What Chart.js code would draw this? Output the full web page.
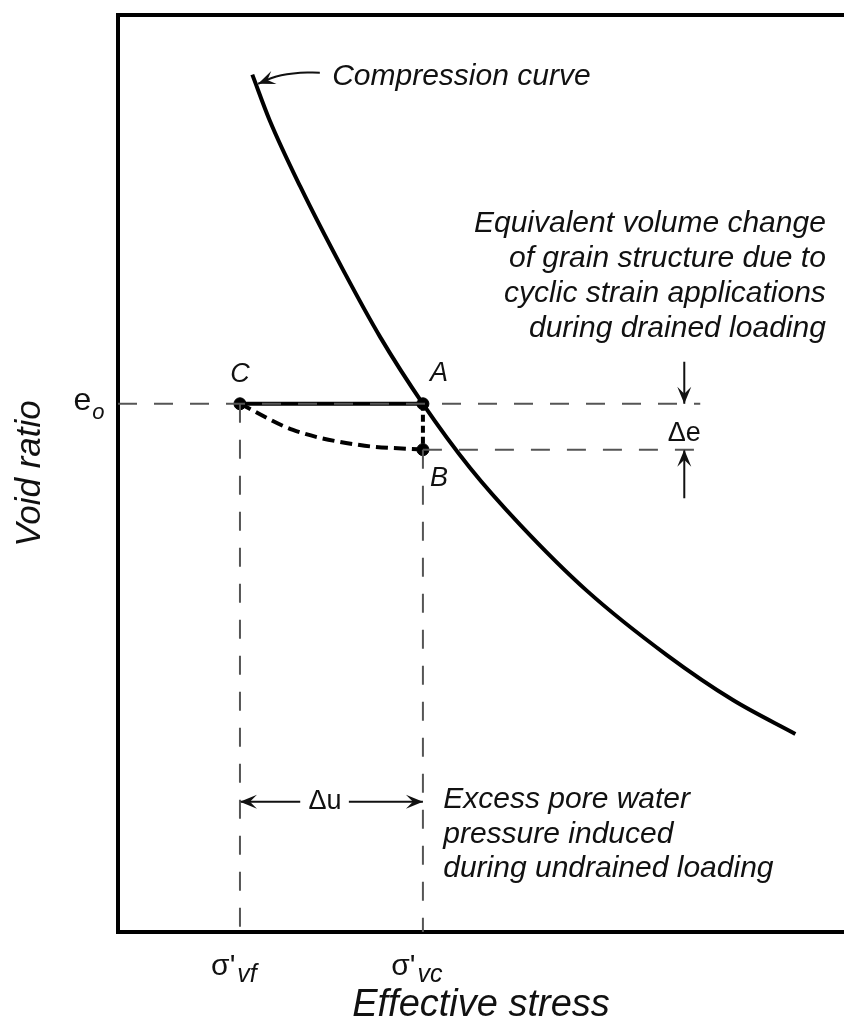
<!DOCTYPE html>
<html>
<head>
<meta charset="utf-8">
<script src="https://cdn.jsdelivr.net/npm/chart.js@4"></script>
<style>
  body { margin: 0; background: #fff; }
  #wrap { width: 844px; height: 1021px; }
</style>
</head>
<body>
<div id="wrap"><canvas id="consolidationChart"></canvas></div>

<script>
  // compression curve (effective stress vs void ratio, arbitrary units)
  const curveStress = [18.5, 20.9, 25.1, 31.0, 36.1, 42.0, 48.5, 55.4, 64.6, 75.6, 84.7, 93.3];
  const curveVoid = [93.5, 88.5, 81.3, 72.2, 64.9, 57.6, 50.6, 44.4, 37.2, 30.2, 25.3, 21.6];

  // undrained path C -> B
  const undrainedStress = [16.8, 24.1, 33.3, 42.0];
  const undrainedVoid = [57.6, 54.75, 53.1, 52.6];

  // key states
  const e0 = 57.6;
  const eB = 52.6;
  const sigmaVf = 16.8;
  const sigmaVc = 42.0;
  const guideEnd = 80.2;

  const pointNames = ["C", "A", "B"];
  const pointStress = [sigmaVf, sigmaVc, sigmaVc];
  const pointVoid = [e0, e0, eB];

  const tickLabels = [["\u03c3'", "vf"], ["\u03c3'", "vc"]];

  // arrows
  const deltaEx = 78.0;
  const deltaEdown = [62.2, e0];
  const deltaEup = [47.3, eB];
  const deltaUy = 14.2;
  const deltaUleft = [sigmaVf, 25.1];
  const deltaUright = [31.8, sigmaVc];
  const leaderStress = [27.8, 25.1, 21.8, 19.3];
  const leaderVoid = [93.7, 93.7, 93.3, 92.5];

  const zip = (xs, ys) => xs.map((v, i) => ({ x: v, y: ys[i] }));
  const FONT = '"Liberation Sans", Arial, sans-serif';

  function arrowHead(ctx, tx, ty, dx, dy) {
    const len = Math.hypot(dx, dy);
    dx /= len; dy /= len;
    const nx = -dy, ny = dx;
    const L = 17, W = 7, N = 10;
    ctx.beginPath();
    ctx.moveTo(tx, ty);
    ctx.lineTo(tx - L * dx + W * nx, ty - L * dy + W * ny);
    ctx.lineTo(tx - N * dx, ty - N * dy);
    ctx.lineTo(tx - L * dx - W * nx, ty - L * dy - W * ny);
    ctx.closePath();
    ctx.fill();
  }

  const sketchPlugin = {
    id: "sketch",
    afterDatasetsDraw(chart) {
      const { ctx, scales: { x, y } } = chart;
      const px = (v) => x.getPixelForValue(v);
      const py = (v) => y.getPixelForValue(v);
      ctx.save();
      ctx.fillStyle = "#111";

      // arrow heads
      arrowHead(ctx, px(deltaEx), py(deltaEdown[1]), 0, 1);
      arrowHead(ctx, px(deltaEx), py(deltaEup[1]), 0, -1);
      arrowHead(ctx, px(deltaUleft[0]), py(deltaUy), -1, 0);
      arrowHead(ctx, px(deltaUright[1]), py(deltaUy), 1, 0);
      const n = leaderStress.length;
      arrowHead(ctx, px(leaderStress[n - 1]), py(leaderVoid[n - 1]),
        px(leaderStress[n - 1]) - px(leaderStress[n - 2]),
        py(leaderVoid[n - 1]) - py(leaderVoid[n - 2]));

      const text = (t, xv, yv, align, base, font) => {
        ctx.font = font;
        ctx.textAlign = align;
        ctx.textBaseline = base;
        ctx.fillText(t, px(xv), py(yv));
      };
      const italic = "italic 30px " + FONT;

      text("Compression curve", 29.5, 92.4, "left", "alphabetic", italic);

      const eq = ["Equivalent volume change", "of grain structure due to",
        "cyclic strain applications", "during drained loading"];
      [76.3, 72.5, 68.7, 64.9].forEach((b, i) => text(eq[i], 97.5, b, "right", "alphabetic", italic));

      const ex = ["Excess pore water", "pressure induced", "during undrained loading"];
      [13.5, 9.7, 6.0].forEach((b, i) => text(ex[i], 44.8, b, "left", "alphabetic", italic));

      // point letters
      const letterPos = [[16.8, 60.8], [44.2, 60.9], [44.2, 49.5]];
      pointNames.forEach((nm, i) => text(nm, letterPos[i][0], letterPos[i][1], "center", "middle", "italic 27px " + FONT));

      text("\u0394e", deltaEx, 54.4, "center", "middle", "27px " + FONT);
      text("\u0394u", 28.5, deltaUy, "center", "middle", "27px " + FONT);

      // e_o
      text("e", -4.9, e0 + 0.3, "center", "middle", "32px " + FONT);
      text("o", -2.7, e0 - 1.0, "center", "middle", "italic 22px " + FONT);

      // sigma tick labels
      [sigmaVf, sigmaVc].forEach((s, i) => {
        const [main, sub] = tickLabels[i];
        ctx.font = "30px " + FONT;
        const w1 = ctx.measureText(main).width;
        ctx.font = "italic 25px " + FONT;
        const w2 = ctx.measureText(sub).width;
        const left = px(s) - (w1 + w2) / 2 - 7;
        ctx.textAlign = "left";
        ctx.textBaseline = "alphabetic";
        ctx.font = "30px " + FONT;
        ctx.fillText(main, left, py(-4.7));
        ctx.font = "italic 25px " + FONT;
        ctx.fillText(sub, left + w1 + 2, py(-5.5));
      });
      ctx.restore();
    },
  };

  const guide = { borderColor: "#555", borderWidth: 2, borderDash: [19, 17], pointRadius: 0, showLine: true, fill: false };
  const thin = { borderColor: "#111", borderWidth: 2, pointRadius: 0, showLine: true, fill: false };

  const ctx = document.getElementById("consolidationChart").getContext("2d");
  new Chart(ctx, {
    type: "scatter",
    data: {
      datasets: [
        { ...guide, data: zip([0, guideEnd], [e0, e0]) },
        { ...guide, data: zip([sigmaVc, guideEnd], [eB, eB]) },
        { ...guide, data: zip([sigmaVf, sigmaVf], [e0, 0]) },
        { ...guide, data: zip([sigmaVc, sigmaVc], [eB, 0]) },
        { label: "Compression curve", data: zip(curveStress, curveVoid), showLine: true, borderColor: "#000", borderWidth: 4, cubicInterpolationMode: "monotone", pointRadius: 0 },
        { data: zip([sigmaVf, sigmaVc], [e0, e0]), showLine: true, borderColor: "#000", borderWidth: 4, pointRadius: 0 },
        { data: zip([sigmaVc, sigmaVc], [e0, eB]), showLine: true, borderColor: "#000", borderWidth: 4, borderDash: [7, 4], pointRadius: 0 },
        { data: zip(undrainedStress, undrainedVoid), showLine: true, borderColor: "#000", borderWidth: 4, borderDash: [12, 6], cubicInterpolationMode: "monotone", pointRadius: 0 },
        { data: zip(pointStress, pointVoid), showLine: false, pointRadius: 6, pointBackgroundColor: "#000", pointBorderColor: "#000" },
        { ...thin, data: zip([deltaEx, deltaEx], deltaEdown) },
        { ...thin, data: zip([deltaEx, deltaEx], deltaEup) },
        { ...thin, data: zip(deltaUleft, [deltaUy, deltaUy]) },
        { ...thin, data: zip(deltaUright, [deltaUy, deltaUy]) },
        { ...thin, data: zip(leaderStress, leaderVoid), tension: 0.4 },
      ],
    },
    options: {
      responsive: true,
      maintainAspectRatio: false,
      animation: false,
      layout: { padding: 0, autoPadding: false },
      plugins: { legend: { display: false }, tooltip: { enabled: false } },
      scales: {
        x: {
          type: "linear", position: "bottom", min: 0, max: 100,
          ticks: { display: false }, grid: { display: false },
          border: { color: "#000", width: 4 },
          title: { display: true, text: "Effective stress", color: "#111", font: { family: FONT, size: 38, style: "italic", lineHeight: 0.8 }, padding: 0 },
          afterFit: (s) => { s.height = 89; },
        },
        xTop: {
          type: "linear", position: "top", min: 0, max: 100,
          ticks: { display: false }, grid: { display: false },
          border: { color: "#000", width: 4 },
          afterFit: (s) => { s.height = 15; },
        },
        y: {
          type: "linear", position: "left", min: 0, max: 100,
          ticks: { display: false }, grid: { display: false },
          border: { color: "#000", width: 4 },
          title: { display: true, text: "Void ratio", color: "#111", font: { family: FONT, size: 35, style: "italic" }, padding: { top: 9, bottom: 0 } },
          afterFit: (s) => { s.width = 118; },
        },
      },
    },
    plugins: [sketchPlugin],
  });
</script>
</body>
</html>
